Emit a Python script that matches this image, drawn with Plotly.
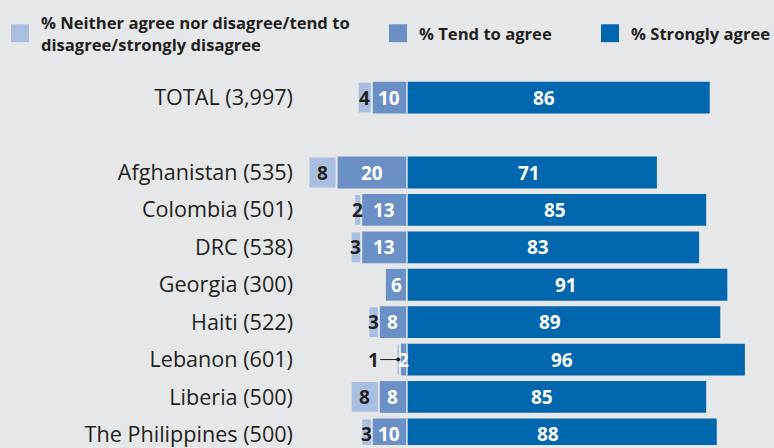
import plotly.graph_objects as go

# ---------------- data ----------------
categories = ["TOTAL (3,997)", " ", "Afghanistan (535)", "Colombia (501)", "DRC (538)",
              "Georgia (300)", "Haiti (522)", "Lebanon (601)", "Liberia (500)",
              "The Philippines (500)"]
neither = [4, None, 8, 2, 3, 0, 3, 1, 8, 3]
tend = [10, None, 20, 13, 13, 6, 8, 2, 8, 10]
strongly = [86, None, 71, 85, 83, 91, 89, 96, 85, 88]

series_names = ["% Neither agree nor disagree/tend to<br>disagree/strongly disagree",
                "% Tend to agree", "% Strongly agree"]

# ---------------- style ----------------
BG = "#E6E7E8"
C_NEITHER = "#A9BFE1"
C_TEND = "#6B90C6"
C_STRONG = "#0066AD"
DARK = "#231F20"
FONT = "Open Sans"

W, H = 774, 448
L, R, T, B = 298, 0, 60, 0
PX_PER_UNIT = 3.52
ZERO_PX = 407

# manual label nudges (pixels) for the "strongly agree" labels, as in the original
strong_label_nudge = [-14, 0, -3, -2, -15, -1, -14, -14, -15, -14]

plot_w = W - L - R
plot_h = H - T - B
x_min = -(ZERO_PX - L) / PX_PER_UNIT
x_max = (W - R - ZERO_PX) / PX_PER_UNIT


def px_x(px):
    return (px - L) / plot_w


def px_y(py):
    return (H - B - py) / plot_h


fig = go.Figure()

fig.add_trace(go.Bar(
    y=categories, x=[None if v is None else -v for v in tend], orientation="h",
    marker=dict(color=C_TEND, line=dict(width=0)), name=series_names[1],
    hoverinfo="skip"))
fig.add_trace(go.Bar(
    y=categories, x=[None if v is None else -v for v in neither], orientation="h",
    marker=dict(color=C_NEITHER, line=dict(width=2, color=BG)), name=series_names[0],
    hoverinfo="skip"))
fig.add_trace(go.Bar(
    y=categories, x=strongly, orientation="h",
    marker=dict(color=C_STRONG, line=dict(width=0)), name=series_names[2],
    hoverinfo="skip"))

annotations = []
shapes = []
label_font = dict(family=FONT, size=19, weight="bold")

for i, cat in enumerate(categories):
    s, t, n = strongly[i], tend[i], neither[i]
    if s is None:
        continue
    # white separator at the zero line
    shapes.append(dict(type="line", xref="x", yref="y", x0=0, x1=0,
                       y0=i - 0.425, y1=i + 0.425,
                       line=dict(color="white", width=1.2)))
    annotations.append(dict(x=s / 2, y=cat, xref="x", yref="y", text=str(s),
                            showarrow=False, xshift=strong_label_nudge[i],
                            font=dict(label_font, color="white")))
    annotations.append(dict(x=-t / 2, y=cat, xref="x", yref="y", text=str(t),
                            showarrow=False, font=dict(label_font, color="white")))
    if n:
        if n <= 1:
            annotations.append(dict(x=-(t + n / 2), y=cat, xref="x", yref="y",
                                    text=str(n), showarrow=True, ax=-25, ay=0,
                                    arrowhead=6, arrowsize=1, arrowwidth=1,
                                    arrowcolor=DARK, standoff=0,
                                    font=dict(label_font, color=DARK)))
        else:
            annotations.append(dict(x=-(t + n / 2), y=cat, xref="x", yref="y",
                                    text=str(n), showarrow=False,
                                    font=dict(label_font, color=DARK)))

# legend drawn manually
legend_items = [(11, C_NEITHER, series_names[0]),
                (389, C_TEND, series_names[1]),
                (601, C_STRONG, series_names[2])]
for x0, col, name in legend_items:
    shapes.append(dict(type="rect", xref="paper", yref="paper",
                       x0=px_x(x0), x1=px_x(x0 + 18), y0=px_y(42), y1=px_y(24),
                       fillcolor=col, line=dict(width=0)))
    annotations.append(dict(x=px_x(x0 + 28), y=px_y(33), xref="paper", yref="paper",
                            xanchor="left", yanchor="middle", align="left",
                            text=name, showarrow=False,
                            font=dict(family=FONT, size=16.6, weight="bold", color=DARK)))

fig.update_layout(
    width=W, height=H,
    margin=dict(l=L, r=R, t=T, b=B, pad=0),
    paper_bgcolor=BG, plot_bgcolor=BG,
    barmode="relative", bargap=0.15,
    showlegend=False,
    xaxis=dict(range=[x_min, x_max], visible=False, fixedrange=True),
    yaxis=dict(type="category", categoryorder="array", categoryarray=categories,
               range=[len(categories) - 1 + 0.284, -1.008],
               showgrid=False, zeroline=False, showline=False, ticks="",
               ticklabelstandoff=4,
               tickfont=dict(family=FONT, size=21.6, color=DARK), fixedrange=True),
    annotations=annotations, shapes=shapes,
)

fig.write_html(
    "out.html",
    config={"displayModeBar": False},
    post_script="document.body.style.margin='0';document.body.style.overflow='hidden';",
)
